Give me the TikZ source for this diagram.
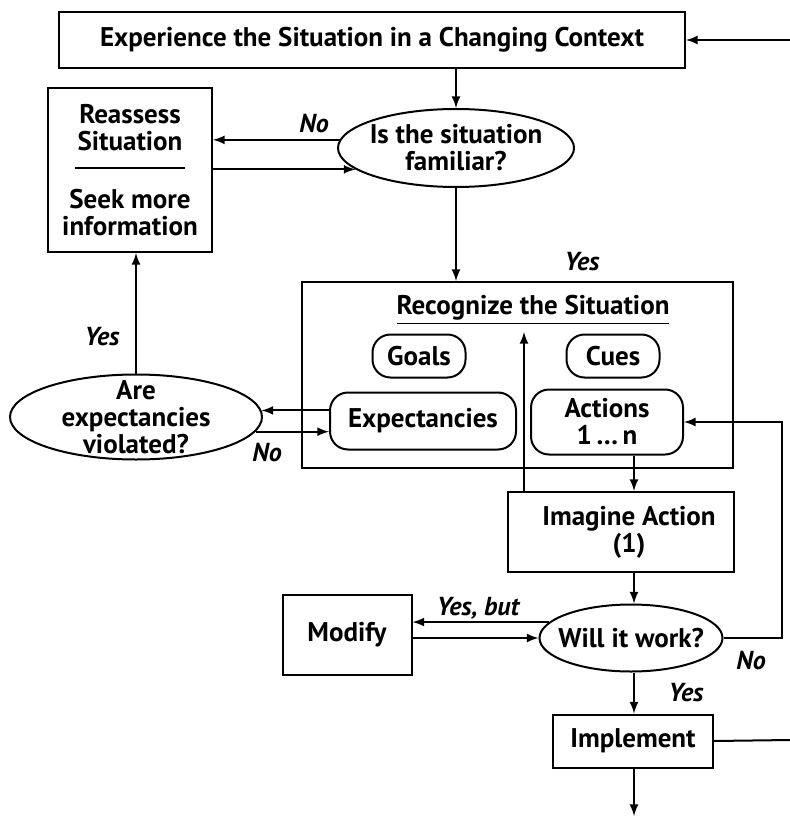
\documentclass[tikz,border=0pt]{standalone}
\usepackage{fontspec}
\setmainfont{PT Sans}
\usetikzlibrary{shapes.geometric,calc}
\begin{document}
\begin{tikzpicture}[x=0.5pt,y=-0.5pt,
  font=\bfseries\fontsize{13.5}{13.5}\selectfont,
  line width=1pt, >=latex,
  box/.style={draw,rectangle,inner sep=0pt,align=center},
  oval/.style={draw,ellipse,inner sep=0pt},
  pill/.style={draw,rounded corners=9pt,inner sep=0pt,align=center},
  lbl/.style={font=\bfseries\itshape\fontsize{13}{13}\selectfont}]
\useasboundingbox (0,0) rectangle (790,818);
\node[box,minimum width=313pt,minimum height=28pt] (top) at (372,40) {Experience the Situation in a Changing Context};
\node[box,minimum width=82pt,minimum height=82pt] (reassess) at (130,170) {Reassess\\Situation\\[0pt]\rule[4pt]{55pt}{1pt}\\[2pt]Seek more\\information};
\node[oval,minimum width=118pt,minimum height=39pt,label={[align=center]center:Is the situation\\familiar?}] (fam) at (456,148) {};
\node[box,minimum width=215.5pt,minimum height=93pt] (recog) at (517.5,375) {};
\node (rtitle) at (533,310) {\underline{Recognize the Situation}};
\node[pill,minimum width=46.5pt,minimum height=21.5pt] (goals) at (419,356) {Goals};
\node[pill,minimum width=46.5pt,minimum height=21.5pt] (cues) at (613,356) {Cues};
\node[pill,minimum width=93pt,minimum height=28.5pt] (expect) at (423,421) {Expectancies};
\node[pill,minimum width=76pt,minimum height=32.5pt] (act) at (607,422) {Actions\\1\,\dots\,n};
\node[oval,minimum width=126pt,minimum height=42.5pt,label={[align=center]center:Are\\expectancies\\violated?}] (viol) at (136,417) {};
\node[box,minimum width=113pt,minimum height=40pt] (imag) at (621,532) {\hspace*{8pt}Imagine Action\\\hspace*{8pt}(1)};
\node[oval,minimum width=91.5pt,minimum height=33.5pt,label={center:Will it work?}] (will) at (631,638) {};
\node[box,minimum width=64.5pt,minimum height=40pt] (modify) at (347,635) {Modify};
\node[box,minimum width=80pt,minimum height=26.5pt] (impl) at (633,741) {Implement};
\node[lbl] (nofam) at (314,124) {No};
\node[lbl] (yesfam) at (582,262) {Yes};
\node[lbl] (yesviol) at (102,337) {Yes};
\node[lbl] (noviol) at (267,453) {No};
\node[lbl] (yesbut) at (478,608) {Yes, but};
\node[lbl] (nowill) at (751,661) {No};
\node[lbl] (yeswill) at (686,693) {Yes};
\coordinate (inR) at (790,40);
\coordinate (rtop) at (524,332);
\coordinate (rline) at (782,422);
\coordinate (outR) at (790,740);
\coordinate (outB) at (634,816);
\draw[->] (inR) -- (top.east);
\draw[->] (top.south -| fam.north) -- (fam.north);
\draw[->] (fam.176) -- (fam.176 -| reassess.east);
\draw[->] (reassess.east |- fam.192) -- (fam.192);
\draw[->] (fam.south) -- (fam.south |- recog.north);
\draw[->] (viol.north) -- (viol.north |- reassess.south);
\draw[->] (expect.west |- viol.3) -- (viol.3);
\draw[->] (viol.-7) -- (viol.-7 -| expect.west);
\draw[->] (act.south -| outB) -- (imag.north -| outB);
\draw[->] (imag.north -| rtop) -- (rtop);
\draw[->] (imag.south -| outB) -- (will.north -| outB);
\draw[->] (will.169) -- (will.169 -| modify.east);
\draw[->] (modify.east |- will.west) -- (will.west);
\draw[->] (will.east) -| (rline) -- (act.east);
\draw[->] (will.south -| outB) -- (impl.north -| outB);
\draw (impl.east) -- (outR);
\draw[->] (impl.south -| outB) -- (outB);
\end{tikzpicture}
\end{document}
